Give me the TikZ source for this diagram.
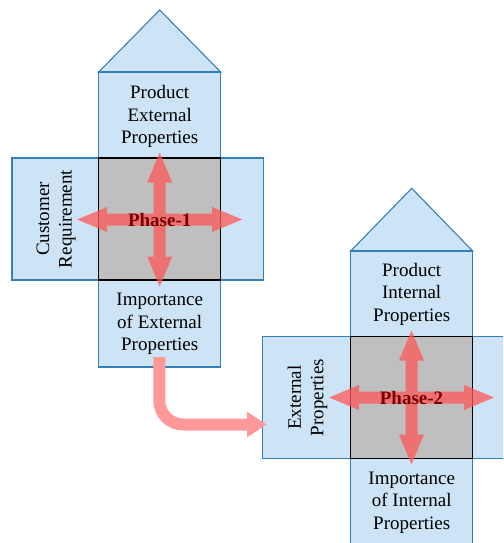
\documentclass[tikz,border=0pt]{standalone}
\usepackage{fontspec}
\setmainfont{Liberation Serif}
\usetikzlibrary{arrows.meta}
\definecolor{lblue}{HTML}{CCE4F5}
\definecolor{bblue}{HTML}{3480BB}
\definecolor{sqgray}{HTML}{BFBFBF}
\definecolor{arrred}{HTML}{FF5858}
\definecolor{linkpink}{HTML}{FF9999}
\definecolor{phasered}{HTML}{7A0000}
\tikzset{
  panel/.style={fill=lblue, draw=bblue, line width=1.1pt},
  core/.style={fill=sqgray, draw=black, line width=1.2pt},
  lbl/.style={align=center, font=\fontsize{19}{22.5}\selectfont, inner sep=0pt},
  phaselbl/.style={font=\fontsize{19}{22.5}\selectfont\bfseries, text=phasered, inner sep=0pt},
  crossarrow/.pic={
    \fill[arrred, opacity=0.75]
      (82.5,0) -- (52.5,-12.5) -- (52.5,-6) -- (6,-6) -- (6,-37) -- (12.5,-37)
      -- (0,-67) -- (-12.5,-37) -- (-6,-37) -- (-6,-6) -- (-52.5,-6) -- (-52.5,-12.5)
      -- (-82.5,0) -- (-52.5,12.5) -- (-52.5,6) -- (-6,6) -- (-6,37) -- (-12.5,37)
      -- (0,67) -- (12.5,37) -- (6,37) -- (6,6) -- (52.5,6) -- (52.5,12.5) -- cycle;
  }
}
\begin{document}
\begin{tikzpicture}[x=1pt, y=-1pt]
\useasboundingbox (0,0) rectangle (503,543);
\clip (0,0) rectangle (503,543);
% ---------- Phase 1 ----------
\draw[panel] (98.7,72) -- (159.7,10) -- (220.7,72) -- cycle;
\draw[panel] (98.7,72) rectangle (220.7,367);
\draw[panel] (12,158) rectangle (263.3,280);
\draw[core] (98.7,158) rectangle (220.7,280);
\node[lbl] (pext) at (159.7,116.5) {Product\\External\\Properties};
\node[lbl, rotate=90] (creq) at (56,219) {Customer\\Requirement};
\node[lbl] (iext) at (159.7,324) {Importance\\of External\\Properties};
\pic at (159.7,219.5) {crossarrow};
\node[phaselbl] (ph1) at (159.7,219.5) {Phase-1};
% ---------- Phase 2 ----------
\draw[panel] (350.7,251) -- (411.7,188.3) -- (472.7,251) -- cycle;
\draw[panel] (350.7,251) rectangle (472.7,548);
\draw[panel] (262.7,336.7) rectangle (560,458.3);
\draw[core] (350.7,336.7) rectangle (472.7,458.3);
\node[lbl] (pint) at (411.7,294) {Product\\Internal\\Properties};
\node[lbl, rotate=90] (eprop) at (307.5,397.5) {External\\Properties};
\node[lbl] (iint) at (411.7,502.7) {Importance\\of Internal\\Properties};
\pic at (411.5,397.5) {crossarrow};
\node[phaselbl] (ph2) at (411.5,397.5) {Phase-2};
% ---------- link arrow ----------
\coordinate (lnkstart) at (159.3,357);
\coordinate (lnkend) at (266.7,424.5);
\draw[draw=linkpink, line width=12pt, rounded corners=24pt,
      -{Triangle[width=24pt,length=19.5pt, fill=linkpink]}]
  (lnkstart) -- (lnkstart |- lnkend) -- (lnkend);
\end{tikzpicture}
\end{document}
